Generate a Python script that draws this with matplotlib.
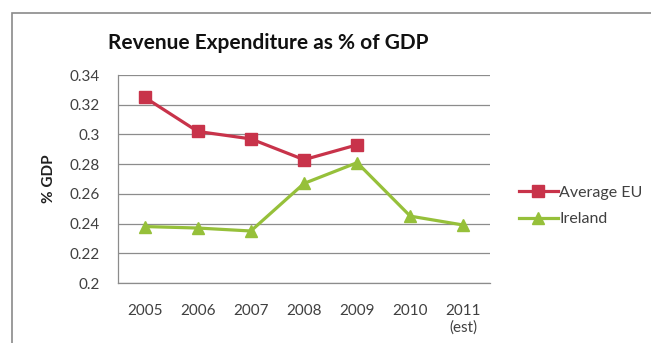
import matplotlib
matplotlib.use("Agg")
import matplotlib.pyplot as plt
from matplotlib.patches import Rectangle

# revenue expenditure as share of GDP
years = ["2005", "2006", "2007", "2008", "2009", "2010", "2011\n(est)"]
eu_avg = [0.325, 0.302, 0.297, 0.283, 0.293]
ireland = [0.238, 0.237, 0.235, 0.267, 0.281, 0.245, 0.239]
yticks = [0.2, 0.22, 0.24, 0.26, 0.28, 0.3, 0.32, 0.34]
ytick_labels = ["0.2", "0.22", "0.24", "0.26", "0.28", "0.3", "0.32", "0.34"]

plt.rcParams['font.family'] = ['Lato', 'DejaVu Sans']

red = "#c8334a"
green = "#96c03a"
grid = "#8c8c8c"
txt = "#404040"

fig = plt.figure(figsize=(6.51, 3.43), dpi=100)

# frame around the chart
fig.patches.append(Rectangle((12 / 651, -0.1), 1.0, (343 - 13) / 343 + 0.1,
                             transform=fig.transFigure, fill=False,
                             edgecolor="#8a8a8a", linewidth=1.2))

ax = fig.add_axes([118 / 651, 60 / 343, 372 / 651, 208 / 343])

x = list(range(len(years)))
ax.plot(x[:len(eu_avg)], eu_avg, color=red, lw=2.3, marker="s", ms=9,
        label="Average EU")
ax.plot(x, ireland, color=green, lw=2.3, marker="^", ms=9,
        label="Ireland")

ax.set_xlim(-0.5, len(years) - 0.5)
ax.set_ylim(0.2, 0.34)
ax.set_yticks(yticks)
ax.set_yticklabels(ytick_labels)
ax.set_xticks(x)
ax.set_xticklabels(years)
ax.yaxis.grid(True, color=grid, lw=0.9)
ax.set_axisbelow(True)
for s in ["top", "right"]:
    ax.spines[s].set_visible(False)
for s in ["left", "bottom"]:
    ax.spines[s].set_color(grid)
    ax.spines[s].set_linewidth(0.9)
ax.tick_params(axis="y", length=0, pad=13, labelsize=11, labelcolor=txt)
ax.tick_params(axis="x", length=0, pad=15, labelsize=11, labelcolor=txt)

ax.set_ylabel("% GDP", fontsize=11, fontweight="bold", color="#202020",
              labelpad=10)

fig.text(268 / 651, 1 - 43 / 343, "Revenue Expenditure as % of GDP",
         ha="center", va="center", fontsize=15, fontweight="bold",
         color="#111111")

ax.legend(loc="center left", bbox_to_anchor=(1.04, 0.37), frameon=False,
          fontsize=11.5, handlelength=2.4, handletextpad=0.1,
          labelspacing=0.75, labelcolor=txt)

fig.savefig("out.png", dpi=100)
